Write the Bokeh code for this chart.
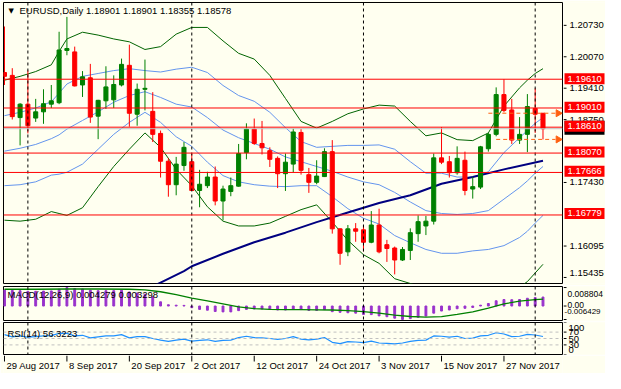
from bokeh.plotting import figure
from bokeh.layouts import column, row
from bokeh.models import Range1d, Span, Label, ColumnDataSource
from bokeh.core.properties import value
from bokeh.embed import file_html
from bokeh.resources import INLINE
import math

# ---------------- data ----------------
header_text = "EURUSD,Daily  1.18901 1.18901 1.18355 1.18578"
macd_text = "MACD(12,26,9) 0.004279 0.003298"
rsi_text = "RSI(14) 56.3223"

date_ticks = [0, 8, 16, 24, 32, 40, 48, 56, 64]
date_labels = ["29 Aug 2017", "8 Sep 2017", "20 Sep 2017", "2 Oct 2017", "12 Oct 2017",
               "24 Oct 2017", "3 Nov 2017", "15 Nov 2017", "27 Nov 2017"]
month_starts = [3, 24, 46, 68]

opens = [1.1975, 1.1969, 1.1881, 1.1909, 1.1880, 1.1893, 1.1909, 1.1912, 1.2021, 1.2018,
         1.1949, 1.1964, 1.1884, 1.1916, 1.1918, 1.1949, 1.1990, 1.1888, 1.1940, 1.1894,
         1.1848, 1.1790, 1.1741, 1.1781, 1.1789, 1.1729, 1.1739, 1.1757, 1.1707, 1.1727,
         1.1738, 1.1808, 1.1857, 1.1827, 1.1812, 1.1796, 1.1764, 1.1784, 1.1850, 1.1762,
         1.1746, 1.1758, 1.1810, 1.1649, 1.1601, 1.1649, 1.1647, 1.1621, 1.1657, 1.1616,
         1.1609, 1.1584, 1.1604, 1.1639, 1.1655, 1.1665, 1.1797, 1.1789, 1.1766, 1.1792,
         1.1732, 1.1736, 1.1816, 1.1846, 1.1929, 1.1897, 1.1834, 1.1846, 1.1900, 1.18901]
highs = [1.2071, 1.1984, 1.1911, 1.1979, 1.1920, 1.1940, 1.1949, 1.2060, 1.2091, 1.2029,
         1.1978, 1.1993, 1.1918, 1.1988, 1.1969, 1.2004, 1.2033, 1.1952, 1.2002, 1.1934,
         1.1854, 1.1796, 1.1799, 1.1830, 1.1806, 1.1772, 1.1768, 1.1779, 1.1739, 1.1756,
         1.1826, 1.1869, 1.1879, 1.1874, 1.1819, 1.1800, 1.1806, 1.1858, 1.1857, 1.1776,
         1.1792, 1.1817, 1.1834, 1.1650, 1.1657, 1.1661, 1.1657, 1.1686, 1.1691, 1.1626,
         1.1612, 1.1611, 1.1650, 1.1677, 1.1676, 1.1806, 1.1861, 1.1801, 1.1821, 1.1810,
         1.1757, 1.1822, 1.1849, 1.1944, 1.1961, 1.1920, 1.1882, 1.1930, 1.1942, 1.18901]
lows = [1.1949, 1.1877, 1.1823, 1.1848, 1.1872, 1.1868, 1.1901, 1.1909, 1.2011, 1.1946,
        1.1924, 1.1870, 1.1836, 1.1899, 1.1901, 1.1946, 1.1862, 1.1864, 1.1896, 1.1830,
        1.1756, 1.1716, 1.1719, 1.1770, 1.1728, 1.1694, 1.1734, 1.1698, 1.1667, 1.1717,
        1.1737, 1.1794, 1.1824, 1.1804, 1.1778, 1.1734, 1.1728, 1.1767, 1.1762, 1.1724,
        1.1742, 1.1757, 1.1639, 1.1574, 1.1592, 1.1622, 1.1602, 1.1619, 1.1598, 1.1580,
        1.1554, 1.1582, 1.1584, 1.1622, 1.1636, 1.1658, 1.1784, 1.1756, 1.1762, 1.1719,
        1.1712, 1.1732, 1.1810, 1.1842, 1.1892, 1.1826, 1.1826, 1.1809, 1.1849, 1.18355]
closes = [1.1967, 1.1883, 1.1909, 1.1864, 1.1893, 1.1910, 1.1916, 1.2022, 1.2025, 1.1947,
          1.1966, 1.1882, 1.1917, 1.1945, 1.1950, 1.1992, 1.1890, 1.1940, 1.1942, 1.1846,
          1.1790, 1.1741, 1.1784, 1.1819, 1.1729, 1.1742, 1.1757, 1.1707, 1.1732, 1.1739,
          1.1806, 1.1857, 1.1827, 1.1818, 1.1794, 1.1764, 1.1788, 1.1851, 1.1771, 1.1746,
          1.1759, 1.1810, 1.1649, 1.1598, 1.1649, 1.1644, 1.1621, 1.1657, 1.1601, 1.1608,
          1.1584, 1.1606, 1.1641, 1.1664, 1.1665, 1.1797, 1.1788, 1.1766, 1.1796, 1.1729,
          1.1737, 1.1820, 1.1846, 1.1929, 1.1896, 1.1834, 1.1846, 1.1904, 1.1888, 1.18578]

# Bollinger bands (read at sampled bars)
bb_idx = [0, 2, 4, 6, 7, 8, 10, 12, 14, 16, 18, 20, 22, 24, 26, 28, 30, 32, 34, 36, 38, 40,
          42, 44, 46, 48, 50, 52, 54, 56, 58, 60, 62, 64, 66, 67, 68, 69]
bb2_upper = [1.1959, 1.1967, 1.1977, 1.1991, 1.2019, 1.2045, 1.2059, 1.2053, 1.2045, 1.2039,
             1.2023, 1.2029, 1.2055, 1.2069, 1.2069, 1.2041, 1.2015, 1.2003, 1.1969, 1.1921,
             1.1873, 1.1859, 1.1873, 1.1889, 1.1899, 1.1907, 1.1905, 1.1873, 1.1843, 1.1849,
             1.1835, 1.1833, 1.1849, 1.1905, 1.1943, 1.1959, 1.1973, 1.1983]
bb1_upper = [1.1885, 1.1892, 1.1901, 1.1914, 1.1932, 1.1951, 1.1967, 1.1973, 1.1979, 1.1983,
             1.1979, 1.1976, 1.1982, 1.1986, 1.1975, 1.1948, 1.1927, 1.1915, 1.1892, 1.1860,
             1.1831, 1.1819, 1.1821, 1.1823, 1.1823, 1.1824, 1.1815, 1.1789, 1.1765, 1.1765,
             1.1757, 1.1757, 1.1768, 1.1808, 1.1839, 1.1854, 1.1869, 1.1881]
bb_mid = [1.1811, 1.1817, 1.1825, 1.1837, 1.1845, 1.1857, 1.1875, 1.1893, 1.1913, 1.1927,
          1.1935, 1.1923, 1.1909, 1.1903, 1.1881, 1.1855, 1.1839, 1.1827, 1.1815, 1.1799,
          1.1789, 1.1779, 1.1769, 1.1757, 1.1747, 1.1741, 1.1725, 1.1705, 1.1687, 1.1681,
          1.1679, 1.1681, 1.1687, 1.1711, 1.1735, 1.1749, 1.1765, 1.1779]
bb1_lower = [1.1739, 1.1741, 1.1747, 1.1761, 1.1763, 1.1767, 1.1784, 1.1815, 1.1846, 1.1871,
             1.1892, 1.1871, 1.1841, 1.1821, 1.1788, 1.1760, 1.1747, 1.1741, 1.1738, 1.1737,
             1.1739, 1.1739, 1.1716, 1.1691, 1.1671, 1.1659, 1.1635, 1.1620, 1.1606, 1.1598,
             1.1598, 1.1603, 1.1606, 1.1614, 1.1631, 1.1644, 1.1661, 1.1677]
bb2_lower = [1.1667, 1.1665, 1.1669, 1.1685, 1.1681, 1.1677, 1.1693, 1.1737, 1.1779, 1.1815,
             1.1849, 1.1819, 1.1773, 1.1739, 1.1695, 1.1665, 1.1655, 1.1655, 1.1661, 1.1675,
             1.1689, 1.1699, 1.1663, 1.1625, 1.1595, 1.1577, 1.1545, 1.1535, 1.1525, 1.1515,
             1.1517, 1.1525, 1.1525, 1.1517, 1.1527, 1.1539, 1.1557, 1.1575]

# long moving average (navy)
ma_idx = [18, 20, 23, 24, 28, 32, 36, 40, 44, 48, 52, 56, 60, 64, 69]
ma_long = [1.1521, 1.1537, 1.1561, 1.1571, 1.1597, 1.1621, 1.1641, 1.1663, 1.1683, 1.1703,
           1.1719, 1.1743, 1.1757, 1.1773, 1.1791]

# horizontal levels
red_levels = [1.19610, 1.19010, 1.18610, 1.18070, 1.17666, 1.16779]
bid_level = 1.18578
orange_levels = [1.18901, 1.18355]
orange_start = [62, 63]
price_ticks = [1.20730, 1.20070, 1.19410, 1.18750, 1.17430, 1.16095, 1.15435]

# MACD
macd_hist = [0.0076, 0.0074, 0.0073, 0.0070, 0.0070, 0.0071, 0.0072, 0.0080, 0.0088, 0.0083,
             0.0081, 0.0075, 0.0073, 0.0073, 0.0073, 0.0075, 0.0067, 0.0062, 0.0056, 0.0044,
             0.0020, 0.0006, 0.0004, 0.0003, -0.0008, -0.0016, -0.0020, -0.0026, -0.0028, -0.0028,
             -0.0022, -0.0016, -0.0014, -0.0014, -0.0016, -0.0019, -0.0019, -0.0015, -0.0017, -0.0021,
             -0.0021, -0.0017, -0.0027, -0.0030, -0.0032, -0.0034, -0.0040, -0.0041, -0.0047, -0.0051,
             -0.0058, -0.0064, -0.0060, -0.0054, -0.0048, -0.0034, -0.0024, -0.0019, -0.0013, -0.0011,
             -0.0007, 0.0004, 0.0012, 0.0025, 0.0031, 0.0030, 0.0031, 0.0037, 0.0040, 0.004279]
sig_idx = [0, 4, 8, 12, 16, 18, 20, 22, 24, 26, 28, 30, 32, 34, 36, 38, 40, 42, 44, 46, 48,
           50, 52, 54, 56, 58, 60, 62, 64, 66, 68, 69]
macd_signal = [0.0080, 0.0080, 0.0081, 0.0081, 0.0080, 0.0077, 0.0068, 0.0054, 0.0038, 0.0024,
               0.0010, -0.0004, -0.0012, -0.0016, -0.0017, -0.0017, -0.0018, -0.0019, -0.0022,
               -0.0027, -0.0034, -0.0043, -0.0050, -0.0053, -0.0051, -0.0040, -0.0028, -0.0010,
               0.0010, 0.0023, 0.0030, 0.003298]
macd_ticks = [0.008804, 0.0, -0.006429]
macd_tick_labels = ["0.008804", "0.00", "-0.006429"]

# RSI
rsi = [62, 55, 58, 54, 56, 58, 59, 66, 66, 58,
       60, 52, 55, 58, 58, 62, 52, 56, 56, 50,
       45, 41, 45, 48, 42, 44, 46, 41, 44, 45,
       53, 57, 53, 52, 50, 47, 50, 56, 48, 46,
       48, 53, 38, 34, 40, 39, 37, 42, 36, 35,
       33, 36, 41, 44, 45, 58, 57, 54, 57, 50,
       51, 58, 60, 68, 64, 56, 57, 63, 61, 56.3223]
rsi_ticks = [100, 70, 50, 30, 0]
rsi_levels = [70, 50, 30]

# ---------------- style / layout ----------------
FONT = "Liberation Sans"
FS = "9.5px"
BG = "#FFFFF0"
CW = 563          # chart part width
SW = 42           # right scale width
X0, X1 = -0.125, 71.5
xr = Range1d(X0, X1)

# main price panel geometry
MAIN_H, MAIN_T, MAIN_B = 285, 2, 2
Y0, Y1 = 1.1535, 1.2121
MAIN_FRAME = MAIN_H - MAIN_T - MAIN_B
ppx = (Y1 - Y0) / MAIN_FRAME


def style(f):
    f.background_fill_color = BG
    f.border_fill_color = BG
    f.grid.visible = False
    return f


def chart(h, yr, top, bottom):
    f = figure(width=CW, height=h, x_range=xr, y_range=yr,
               output_backend="svg", toolbar_location=None,
               x_axis_location=None, y_axis_location=None,
               min_border_left=3, min_border_right=1,
               min_border_top=top, min_border_bottom=bottom)
    style(f)
    f.outline_line_color = "black"
    f.outline_line_width = 1
    for m in month_starts:
        f.add_layout(Span(location=m, dimension="height", line_color="black",
                          line_dash="3 3", line_width=1))
    return f


def side(h, yr, top, bottom):
    f = figure(width=SW, height=h, x_range=Range1d(0, SW), y_range=yr,
               output_backend="svg", toolbar_location=None,
               x_axis_location=None, y_axis_location=None,
               min_border_left=0, min_border_right=0,
               min_border_top=top, min_border_bottom=bottom)
    style(f)
    f.outline_line_color = None
    return f


def gtext(f, xs, ys, texts, color="black", size=FS, yoff=0, xoff=0):
    f.text(x=xs, y=ys, text=texts, text_font=value(FONT), text_font_size=value(size),
           text_color=color, text_align="left", text_baseline="middle",
           x_offset=xoff, y_offset=yoff)


def ltext(fig, x, y, text, **kw):
    opts = dict(text_font=FONT, text_font_size=FS, text_color="black",
                text_baseline="middle", text_align="left")
    opts.update(kw)
    fig.add_layout(Label(x=x, y=y, text=text, **opts))


# ---------------- main chart ----------------
yr_main = Range1d(Y0, Y1)
p = chart(MAIN_H, yr_main, MAIN_T, MAIN_B)

p.line(bb_idx, bb2_upper, color="#006400", line_width=1)
p.line(bb_idx, bb2_lower, color="#006400", line_width=1)
p.line(bb_idx, bb1_upper, color="#6495ED", line_width=1)
p.line(bb_idx, bb_mid, color="#6495ED", line_width=1)
p.line(bb_idx, bb1_lower, color="#6495ED", line_width=1)
p.line(ma_idx, ma_long, color="#000080", line_width=2)

idx = list(range(len(opens)))
cols = ["#008000" if c >= o else "#FF0000" for o, c in zip(opens, closes)]
src = ColumnDataSource(dict(x=idx, h=highs, l=lows,
                            top=[max(o, c) for o, c in zip(opens, closes)],
                            bot=[min(o, c) for o, c in zip(opens, closes)],
                            col=cols))
p.segment("x", "h", "x", "l", color="col", line_width=1, source=src)
p.vbar(x="x", width=0.52, top="top", bottom="bot", fill_color="col", line_color="col",
       line_width=1, source=src)

p.add_layout(Span(location=bid_level, dimension="width", line_color="#C0C0C0", line_width=1))
for lv in red_levels:
    p.add_layout(Span(location=lv, dimension="width", line_color="#FF0000", line_width=1))

for lv, s in zip(orange_levels, orange_start):
    p.segment(x0=[s], y0=[lv], x1=[70.6], y1=[lv], line_color="#FF6010",
              line_dash="4 3", line_width=1)
p.scatter([70.95] * len(orange_levels), orange_levels, marker="triangle", size=7,
          angle=-math.pi / 2, fill_color="#FF6010", line_color="#FF6010")

ltext(p, X0, Y1, "\u25bc", x_offset=5, y_offset=-8, text_font="DejaVu Sans",
      text_font_size="7px")
ltext(p, X0, Y1, header_text, x_offset=16, y_offset=-8)

# right price scale
yr_main_side = Range1d(Y0 - MAIN_B * ppx, Y1)
ps = side(MAIN_H, yr_main_side, MAIN_T, 0)
ps.segment(x0=[0] * len(price_ticks), y0=price_ticks, x1=[3] * len(price_ticks),
           y1=price_ticks, color="black", line_width=1)
gtext(ps, [6] * (len(price_ticks) - 1), price_ticks[:-1],
      [f"{t:.5f}" for t in price_ticks[:-1]])
gtext(ps, [6], price_ticks[-1:], [f"{price_ticks[-1]:.5f}"], yoff=-4)
ps.rect(x=[21], y=[bid_level], width=40, height=14, height_units="screen",
        fill_color="black", line_color=None)
gtext(ps, [4], [bid_level], [f"{bid_level:.5f}"], color="white")
ps.rect(x=[21] * len(red_levels), y=red_levels, width=40, height=11, height_units="screen",
        fill_color="#FF0000", line_color=None)
gtext(ps, [4] * len(red_levels), red_levels, [f"{lv:.5f}" for lv in red_levels], color="white")

# ---------------- MACD ----------------
MACD_H = 36
yr_macd = Range1d(-0.0069, 0.0093)
m = chart(MACD_H, yr_macd, 1, 1)
m.vbar(x=idx, top=macd_hist, bottom=0, width=0.24, color="#9932CC")
m.line(sig_idx, macd_signal, color="#008000", line_width=1.3)
ltext(m, X0, 0.0093, macd_text, x_offset=4, y_offset=-8)

ms = side(MACD_H, yr_macd, 1, 1)
ms.segment(x0=[0] * 3, y0=macd_ticks, x1=[3] * 3, y1=macd_ticks, color="black", line_width=1)
gtext(ms, [4], [macd_ticks[0]], [macd_tick_labels[0]], yoff=6, size="8.5px")
gtext(ms, [4], [macd_ticks[1]], [macd_tick_labels[1]], yoff=-1, size="8.5px")
gtext(ms, [1], [macd_ticks[2]], [macd_tick_labels[2]], yoff=-8, size="8px")

# ---------------- RSI ----------------
RSI_H = 34
yr_rsi = Range1d(0, 100)
r = chart(RSI_H, yr_rsi, 1, 1)
for lv in rsi_levels:
    r.add_layout(Span(location=lv, dimension="width", line_color="#C0C0C0",
                      line_dash="3 3", line_width=1))
r.line(idx, rsi, color="#1E90FF", line_width=1.2)
ltext(r, X0, 100, rsi_text, x_offset=4, y_offset=-11)

rs = side(RSI_H, yr_rsi, 1, 1)
rs.segment(x0=[0] * len(rsi_ticks), y0=rsi_ticks, x1=[3] * len(rsi_ticks), y1=rsi_ticks,
           color="black", line_width=1)
for t in rsi_ticks:
    off = 5 if t == 100 else (-5 if t == 0 else 0)
    gtext(rs, [5], [t], [str(t)], yoff=off)

# ---------------- date scale ----------------
DATE_H = 18
d = figure(width=CW + SW, height=DATE_H, x_range=xr, y_range=Range1d(0, DATE_H),
           output_backend="svg", toolbar_location=None,
           x_axis_location=None, y_axis_location=None,
           min_border_left=3, min_border_right=SW + 1, min_border_top=0, min_border_bottom=0)
style(d)
d.outline_line_color = None
d.segment(x0=date_ticks, y0=[DATE_H] * len(date_ticks), x1=date_ticks,
          y1=[DATE_H - 6] * len(date_ticks), color="black", line_width=1)
gtext(d, date_ticks, [DATE_H - 10] * len(date_ticks), date_labels, xoff=2)

layout = column(row(p, ps), row(m, ms), row(r, rs), d)
open("out.html", "w").write(file_html(layout, INLINE))
